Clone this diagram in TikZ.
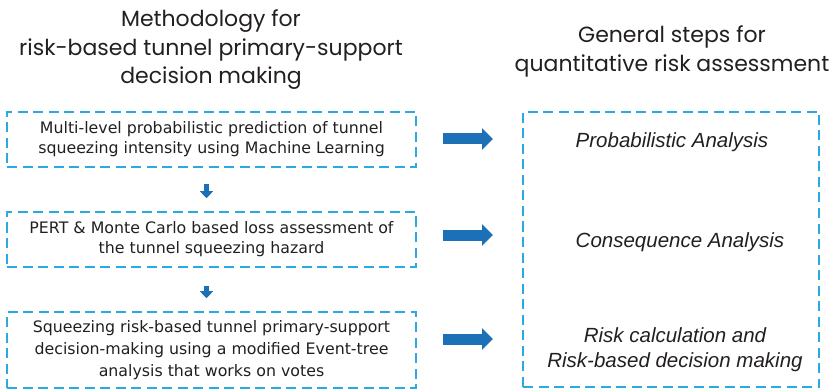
\documentclass[tikz,border=0pt]{standalone}
\usepackage{fontspec}
\setmainfont{DejaVu Sans}
\newfontfamily\headfont{Poppins}
\newfontfamily\stepfont{Liberation Sans}
\usetikzlibrary{arrows.meta}
\definecolor{dashblue}{RGB}{41,171,226}
\definecolor{arrowblue}{RGB}{28,112,184}
\definecolor{ink}{RGB}{35,31,32}
\begin{document}
\begin{tikzpicture}[x=1pt,y=-1pt,
  heading/.style={font=\headfont\fontsize{22}{28.5}\selectfont, text=ink, align=center, inner sep=0},
  stepbox/.style={draw=dashblue, line width=1.6pt, dash pattern=on 10pt off 5.5pt,
    minimum width=409pt, inner sep=0, align=center, text=ink,
    font=\fontsize{15.8}{20}\selectfont},
  qrabox/.style={draw=dashblue, line width=1.6pt, dash pattern=on 10pt off 5.5pt,
    minimum width=296pt, minimum height=275pt, inner sep=0},
  qrastep/.style={font=\stepfont\itshape\fontsize{20.5}{25}\selectfont, text=ink, align=center, inner sep=0},
  bigarrow/.style={draw=arrowblue, line width=11pt, -{Triangle[length=11pt,width=21pt]}},
  downarrow/.style={draw=arrowblue, line width=5pt, -{Triangle[length=7pt,width=13pt]}}
]
\useasboundingbox (0,0) rectangle (835,390);

% headings
\node[heading] (hleft) at (211,50) {Methodology for\\risk-based tunnel primary-support\\decision making};
\node[heading] (hright) at (672,51.5) {General steps for\\quantitative risk assessment};

% methodology steps
\node[stepbox, minimum height=55pt] (s1) at (211.5,139.5)
  {Multi-level probabilistic prediction of tunnel\\squeezing intensity using Machine Learning};
\node[stepbox, minimum height=55pt] (s2) at (211.5,239.5)
  {PERT \& Monte Carlo based loss assessment of\\the tunnel squeezing hazard};
\node[stepbox, minimum height=76pt, font=\fontsize{15.8}{22}\selectfont] (s3) at (211.5,350)
  {Squeezing risk-based tunnel primary-support\\decision-making using a modified Event-tree\\analysis that works on votes};

% general risk-assessment steps
\node[qrabox] (qra) at (671,249.5) {};
\node[qrastep] (r1) at (672,142) {Probabilistic Analysis};
\node[qrastep] (r2) at (680,242) {Consequence Analysis};
\node[qrastep] (r3) at (675,350) {Risk calculation and\\Risk-based decision making};

% flow between steps
\draw[downarrow] ([xshift=-5pt,yshift=-16pt]s1.south) -- ([xshift=-5pt,yshift=13pt]s2.north);
\draw[downarrow] ([xshift=-5pt,yshift=-18pt]s2.south) -- ([xshift=-5pt,yshift=13pt]s3.north);

% links to the general steps
\coordinate (a1) at (443,139);
\coordinate (b1) at (493,139);
\coordinate (a2) at (443,235);
\coordinate (b2) at (493,235);
\coordinate (a3) at (443,339);
\coordinate (b3) at (493,339);
\draw[bigarrow] (a1) -- (b1);
\draw[bigarrow] (a2) -- (b2);
\draw[bigarrow] (a3) -- (b3);
\end{tikzpicture}
\end{document}
